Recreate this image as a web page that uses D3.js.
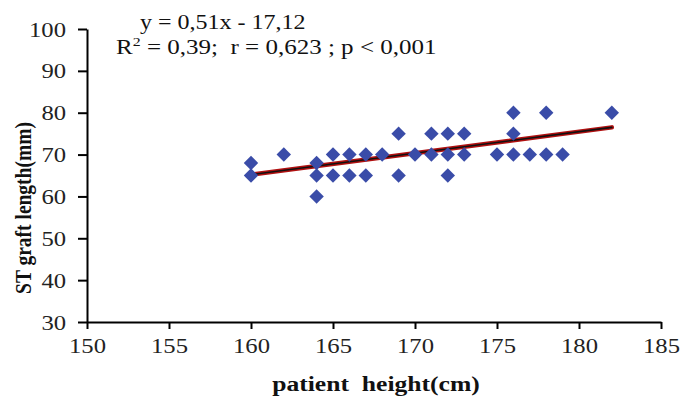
<!DOCTYPE html>
<html>
<head>
<meta charset="utf-8">
<script src="https://cdn.jsdelivr.net/npm/d3@7"></script>
<style>
  html, body { margin: 0; padding: 0; background: #fff; }
  svg { display: block; }
  text { white-space: pre; }
</style>
</head>
<body>
<svg id="chart" width="681" height="396"></svg>
<script>
// Data
const heights = [160,160,162,164,164,164,165,165,166,166,167,167,168,169,169,170,171,171,172,172,172,173,173,175,176,176,176,177,178,178,179,182];
const graftLengths = [68,65,70,68,65,60,70,65,70,65,70,65,70,75,65,70,75,70,75,70,65,75,70,70,80,75,70,70,80,70,70,80];
const trendX = [160, 182];
const trendY = [65.2, 76.5];
const xTicks = [150,155,160,165,170,175,180,185];
const yTicks = [30,40,50,60,70,80,90,100];
const equationText = "y = 0,51x - 17,12";
const statsText = ["R", "2", " = 0,39;  r = 0,623 ; p < 0,001"];
const xTitle = "patient  height(cm)";
const yTitle = "ST graft length(mm)";

const svg = d3.select("#chart");
const font = "'Liberation Serif', 'Times New Roman', serif";

function stretch(sel, f) {
  sel.each(function () {
    const w = this.getComputedTextLength();
    d3.select(this).attr("textLength", w * f).attr("lengthAdjust", "spacingAndGlyphs");
  });
}

const x = d3.scaleLinear().domain([150, 185]).range([87, 661]);
const y = d3.scaleLinear().domain([30, 100]).range([322, 29]);

// Axes
const xAxis = d3.axisBottom(x).tickValues(xTicks).tickSize(7).tickPadding(8).tickSizeOuter(0);
const yAxis = d3.axisLeft(y).tickValues(yTicks).tickSize(9).tickPadding(12).tickSizeOuter(0);

const gx = svg.append("g").attr("transform", `translate(0,${y(30)})`).call(xAxis);
const gy = svg.append("g").attr("transform", `translate(${x(150)},0)`).call(yAxis);

[gx, gy].forEach(g => {
  g.select(".domain").attr("stroke", "#000").attr("stroke-width", 2);
  g.selectAll(".tick line").attr("stroke", "#000").attr("stroke-width", 2);
  g.selectAll(".tick text").attr("fill", "#222").style("font-family", font).style("font-size", "22px");
  stretch(g.selectAll(".tick text"), 1.12);
});

// Trend line (dark red halo with black core)
const line = d3.line().x(d => x(d[0])).y(d => y(d[1]));
const trend = d3.zip(trendX, trendY);
svg.append("path").datum(trend).attr("d", line)
  .attr("fill", "none").attr("stroke", "#b01010").attr("stroke-width", 4.5).attr("stroke-linecap", "round");
svg.append("path").datum(trend).attr("d", line)
  .attr("fill", "none").attr("stroke", "#111").attr("stroke-width", 1.6).attr("stroke-linecap", "round");

// Points (diamonds)
const pts = d3.zip(heights, graftLengths);
const diamond = d3.symbol().type(d3.symbolSquare).size(104);
svg.append("g").selectAll("path").data(pts).join("path")
  .attr("d", diamond)
  .attr("transform", d => `translate(${x(d[0])},${y(d[1])}) rotate(45)`)
  .attr("fill", "#3a4ca8");

// Equation text
const t1 = svg.append("text")
  .attr("x", 140).attr("y", 29)
  .style("font-family", font).style("font-size", "20px").attr("fill", "#111")
  .text(equationText);
stretch(t1, 1.2);

const t2 = svg.append("text")
  .attr("x", 116).attr("y", 54)
  .style("font-family", font).style("font-size", "20.5px").attr("fill", "#111");
t2.append("tspan").text(statsText[0]);
t2.append("tspan").attr("dy", -8).style("font-size", "13px").text(statsText[1]);
t2.append("tspan").attr("dy", 8).text(statsText[2]);
stretch(t2, 1.22);

// Axis titles
const xt = svg.append("text")
  .attr("x", 376).attr("y", 391)
  .attr("text-anchor", "middle")
  .style("font-family", font).style("font-size", "20px").style("font-weight", "bold").attr("fill", "#111")
  .text(xTitle);
stretch(xt, 1.28);

svg.append("text")
  .attr("transform", "translate(31,208) scale(1.15,1) rotate(-90)")
  .attr("text-anchor", "middle")
  .style("font-family", font).style("font-size", "19.5px").style("font-weight", "bold").attr("fill", "#111")
  .text(yTitle);
</script>
</body>
</html>
